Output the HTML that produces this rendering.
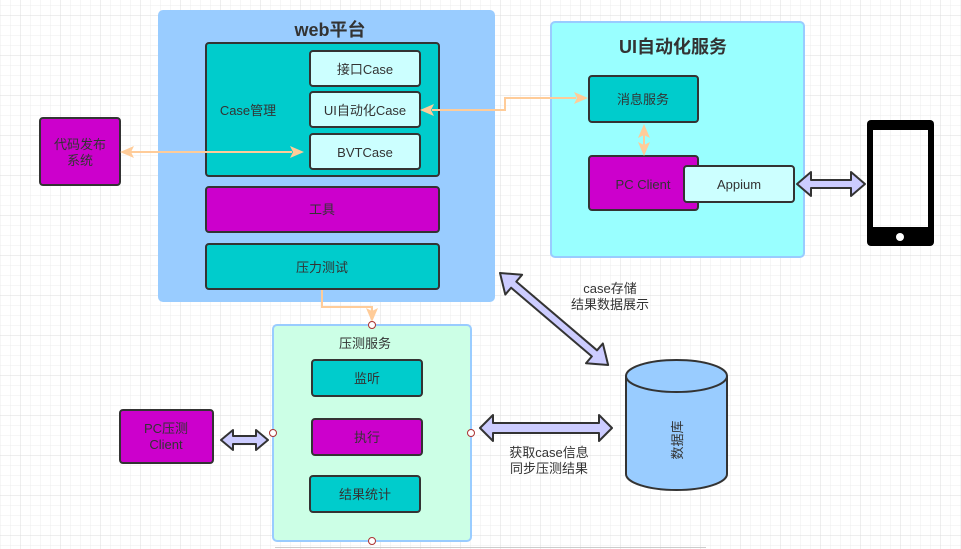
<!DOCTYPE html>
<html><head><meta charset="utf-8"><style>
html,body{margin:0;padding:0;background:#fff}
svg{display:block}
text{font-family:"Liberation Sans","Noto Sans CJK SC",sans-serif;fill:#333}
</style></head><body>
<svg width="961" height="549" viewBox="0 0 961 549" xmlns="http://www.w3.org/2000/svg">
<defs>
<pattern id="minor" width="10" height="10" patternUnits="userSpaceOnUse" x="0" y="5">
<path d="M0 0H10M0 0V10" stroke="#ececec" stroke-width="1" fill="none"/>
</pattern>
<pattern id="major" width="40" height="40" patternUnits="userSpaceOnUse" x="20" y="15">
<path d="M0 0H40M0 0V40" stroke="#dcdcdc" stroke-width="1" fill="none"/>
</pattern>
</defs>
<rect width="961" height="549" fill="url(#minor)"/>
<rect width="961" height="549" fill="url(#major)"/>

<!-- web platform -->
<rect x="158" y="10" width="337" height="292" rx="5" fill="#99ccff"/>
<text x="330" y="36" font-size="18" font-weight="bold" text-anchor="middle">web平台</text>
<rect x="206" y="43" width="233" height="133" rx="3" fill="#00cccc" stroke="#333" stroke-width="2"/>
<text x="248" y="115" font-size="13" text-anchor="middle">Case管理</text>
<rect x="310" y="51" width="110" height="35" rx="3" fill="#ccffff" stroke="#333" stroke-width="2"/>
<text x="365" y="74" font-size="13" text-anchor="middle">接口Case</text>
<rect x="310" y="92" width="110" height="35" rx="3" fill="#ccffff" stroke="#333" stroke-width="2"/>
<text x="365" y="115" font-size="13" text-anchor="middle">UI自动化Case</text>
<rect x="310" y="134" width="110" height="35" rx="3" fill="#ccffff" stroke="#333" stroke-width="2"/>
<text x="365" y="157" font-size="13" text-anchor="middle">BVTCase</text>
<rect x="206" y="187" width="233" height="45" rx="3" fill="#cc00cc" stroke="#333" stroke-width="2"/>
<text x="322" y="214" font-size="13" text-anchor="middle">工具</text>
<rect x="206" y="244" width="233" height="45" rx="3" fill="#00cccc" stroke="#333" stroke-width="2"/>
<text x="322" y="272" font-size="13" text-anchor="middle">压力测试</text>

<!-- 代码发布系统 -->
<rect x="40" y="118" width="80" height="67" rx="3" fill="#cc00cc" stroke="#333" stroke-width="2"/>
<text x="80" y="149" font-size="13" text-anchor="middle">代码发布</text>
<text x="80" y="165" font-size="13" text-anchor="middle">系统</text>

<!-- UI automation service -->
<rect x="551" y="22" width="253" height="235" rx="4" fill="#99ffff" stroke="#99ccff" stroke-width="2"/>
<text x="673" y="53" font-size="18" font-weight="bold" text-anchor="middle">UI自动化服务</text>
<rect x="589" y="76" width="109" height="46" rx="3" fill="#00cccc" stroke="#333" stroke-width="2"/>
<text x="643" y="104" font-size="13" text-anchor="middle">消息服务</text>
<rect x="589" y="156" width="109" height="54" rx="3" fill="#cc00cc" stroke="#333" stroke-width="2"/>
<text x="643" y="189" font-size="13" text-anchor="middle">PC Client</text>
<rect x="684" y="166" width="110" height="36" rx="3" fill="#ccffff" stroke="#333" stroke-width="2"/>
<text x="739" y="189" font-size="13" text-anchor="middle">Appium</text>

<!-- phone -->
<rect x="867" y="120" width="67" height="126" rx="4" fill="#000"/>
<rect x="873" y="130" width="55" height="97" fill="#fff"/>
<rect x="873" y="130" width="55" height="97" fill="url(#minor)"/>
<circle cx="900" cy="237" r="4" fill="#fff"/>

<!-- block arrows -->
<g fill="#ccccff" stroke="#333" stroke-width="2" stroke-linejoin="round">
<polygon points="797,184 811,172 811,180 851,180 851,172 865,184 851,196 851,188 811,188 811,196"/>
<polygon points="221,440 233,430 233,436 256,436 256,430 268,440 256,450 256,444 233,444 233,450"/>
<polygon points="480,428 493,415 493,423 599,423 599,415 612,428 599,441 599,433 493,433 493,441"/>
<g transform="translate(500,273) rotate(40.4)">
<polygon points="0,0 18,-13 18,-4 124,-4 124,-13 142,0 124,13 124,4 18,4 18,13"/>
</g>
</g>
<text x="610" y="293" font-size="13" text-anchor="middle">case存储</text>
<text x="610" y="309" font-size="13" text-anchor="middle">结果数据展示</text>
<text x="549" y="457" font-size="13" text-anchor="middle">获取case信息</text>
<text x="549" y="473" font-size="13" text-anchor="middle">同步压测结果</text>

<!-- database -->
<path d="M626 376 V474 A50.5 16 0 0 0 727 474 V376" fill="#99ccff" stroke="#333" stroke-width="2"/>
<ellipse cx="676.5" cy="376" rx="50.5" ry="16" fill="#99ccff" stroke="#333" stroke-width="2"/>
<text transform="translate(682,440) rotate(-90)" font-size="13" text-anchor="middle">数据库</text>

<!-- 压测服务 -->
<rect x="273" y="325" width="198" height="216" rx="4" fill="#ccffe6" stroke="#99ccff" stroke-width="2"/>
<text x="365" y="348" font-size="13" text-anchor="middle">压测服务</text>
<rect x="312" y="360" width="110" height="36" rx="3" fill="#00cccc" stroke="#333" stroke-width="2"/>
<text x="367" y="383" font-size="13" text-anchor="middle">监听</text>
<rect x="312" y="419" width="110" height="36" rx="3" fill="#cc00cc" stroke="#333" stroke-width="2"/>
<text x="367" y="442" font-size="13" text-anchor="middle">执行</text>
<rect x="310" y="476" width="110" height="36" rx="3" fill="#00cccc" stroke="#333" stroke-width="2"/>
<text x="365" y="499" font-size="13" text-anchor="middle">结果统计</text>

<rect x="120" y="410" width="93" height="53" rx="3" fill="#cc00cc" stroke="#333" stroke-width="2"/>
<text x="166" y="433" font-size="13" text-anchor="middle">PC压测</text>
<text x="166" y="449" font-size="13" text-anchor="middle">Client</text>

<!-- orange arrows (on top) -->
<g stroke="#ffcc99" stroke-width="2" fill="none">
<line x1="130" y1="152" x2="292" y2="152"/>
<polyline points="432,110 505,110 505,98 576,98"/>
<line x1="644" y1="134" x2="644" y2="146"/>
<polyline points="322,290 322,307 372,307 372,312"/>
</g>
<g fill="#ffcc99">
<polygon points="120,152 134,146 131,152 134,158"/>
<polygon points="304,152 290,146 293,152 290,158"/>
<polygon points="420,110 434,104 431,110 434,116"/>
<polygon points="588,98 574,92 577,98 574,104"/>
<polygon points="644,124 638,138 644,135 650,138"/>
<polygon points="644,156 638,142 644,145 650,142"/>
<polygon points="372,322 366,308 372,311 378,308"/>
</g>

<g fill="#fff" stroke="#a33" stroke-width="1">
<circle cx="372" cy="325" r="3.5"/>
<circle cx="273" cy="433" r="3.5"/>
<circle cx="471" cy="433" r="3.5"/>
<circle cx="372" cy="541" r="3.5"/>
</g>
<line x1="275" y1="547.5" x2="706" y2="547.5" stroke="#ccc" stroke-width="1"/>
</svg>
</body></html>
